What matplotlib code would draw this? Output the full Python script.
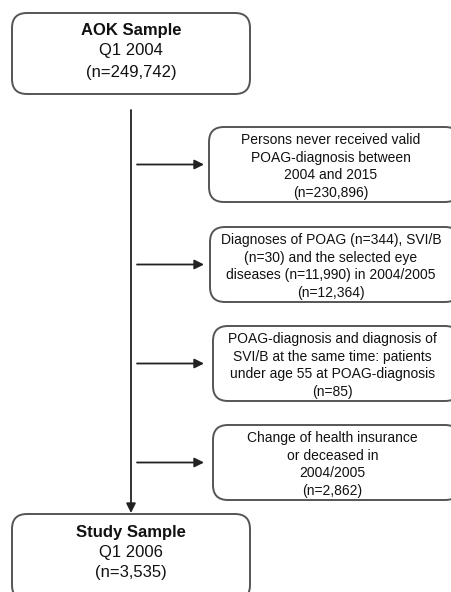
import matplotlib
matplotlib.use("Agg")
import matplotlib.pyplot as plt
from matplotlib.patches import FancyBboxPatch

# ---- content ----
main_titles = ["AOK Sample", "Study Sample"]
main_periods = ["Q1 2004", "Q1 2006"]
main_counts = ["249,742", "3,535"]

exclusion_lines = [
    ["Persons never received valid", "POAG-diagnosis between", "2004 and 2015"],
    ["Diagnoses of POAG (n=344), SVI/B", "(n=30) and the selected eye", "diseases (n=11,990) in 2004/2005"],
    ["POAG-diagnosis and diagnosis of", "SVI/B at the same time: patients", "under age 55 at POAG-diagnosis"],
    ["Change of health insurance", "or deceased in", "2004/2005"],
]
exclusion_counts = ["230,896", "12,364", "85", "2,862"]

# ---- layout ----
W, H = 452, 592
fig = plt.figure(figsize=(W / 100, H / 100), dpi=100)
ax = fig.add_axes([0, 0, 1, 1])
ax.set_xlim(0, W)
ax.set_ylim(H, 0)
ax.axis("off")

FONT = "Liberation Sans"
EDGE = "#555555"
TXT = "#111111"

def rbox(x0, y0, x1, y1, r=15):
    p = FancyBboxPatch((x0, y0), x1 - x0, y1 - y0,
                       boxstyle=f"round,pad=0,rounding_size={r}",
                       fc="white", ec=EDGE, lw=1.4, zorder=2)
    ax.add_patch(p)

# main boxes
main_boxes = [(12, 13, 250, 94), (12, 514, 250, 600)]
main_text_y = [(30, 51, 72), (532, 553, 573)]
for (x0, y0, x1, y1), ys, t, per, n in zip(main_boxes, main_text_y,
                                           main_titles, main_periods, main_counts):
    rbox(x0, y0, x1, y1)
    cx = 131
    ax.text(cx, ys[0], t, ha="center", va="center", fontsize=12,
            fontweight="bold", family=FONT, color=TXT, zorder=3)
    ax.text(cx, ys[1], per, ha="center", va="center", fontsize=12,
            family=FONT, color=TXT, zorder=3)
    ax.text(cx, ys[2], f"(n={n})", ha="center", va="center", fontsize=12,
            family=FONT, color=TXT, zorder=3)

# vertical flow line
ax.annotate("", xy=(131, 513), xytext=(131, 110),
            arrowprops=dict(arrowstyle="-|>", mutation_scale=14, lw=1.3,
                            color="#222222", shrinkA=0, shrinkB=0), zorder=1)

# exclusion boxes
ex_tops = [127, 227, 326, 425]
ex_left = [209, 210, 213, 213]
bh = 75
spacing = 17.5
for top, left, lines, n in zip(ex_tops, ex_left, exclusion_lines, exclusion_counts):
    rbox(left, top, 460, top + bh)
    cy = top + bh / 2
    ax.annotate("", xy=(204, cy), xytext=(137, cy),
                arrowprops=dict(arrowstyle="-|>", mutation_scale=14, lw=1.3,
                                color="#222222", shrinkA=0, shrinkB=0))
    all_lines = lines + [f"(n={n})"]
    k = len(all_lines)
    cx = (left + 452) / 2
    for i, s in enumerate(all_lines):
        y = cy + 2 + (i - (k - 1) / 2) * spacing
        ax.text(cx, y, s, ha="center", va="center", fontsize=10,
                family=FONT, color=TXT, zorder=3)

fig.savefig("out.png", dpi=100)
